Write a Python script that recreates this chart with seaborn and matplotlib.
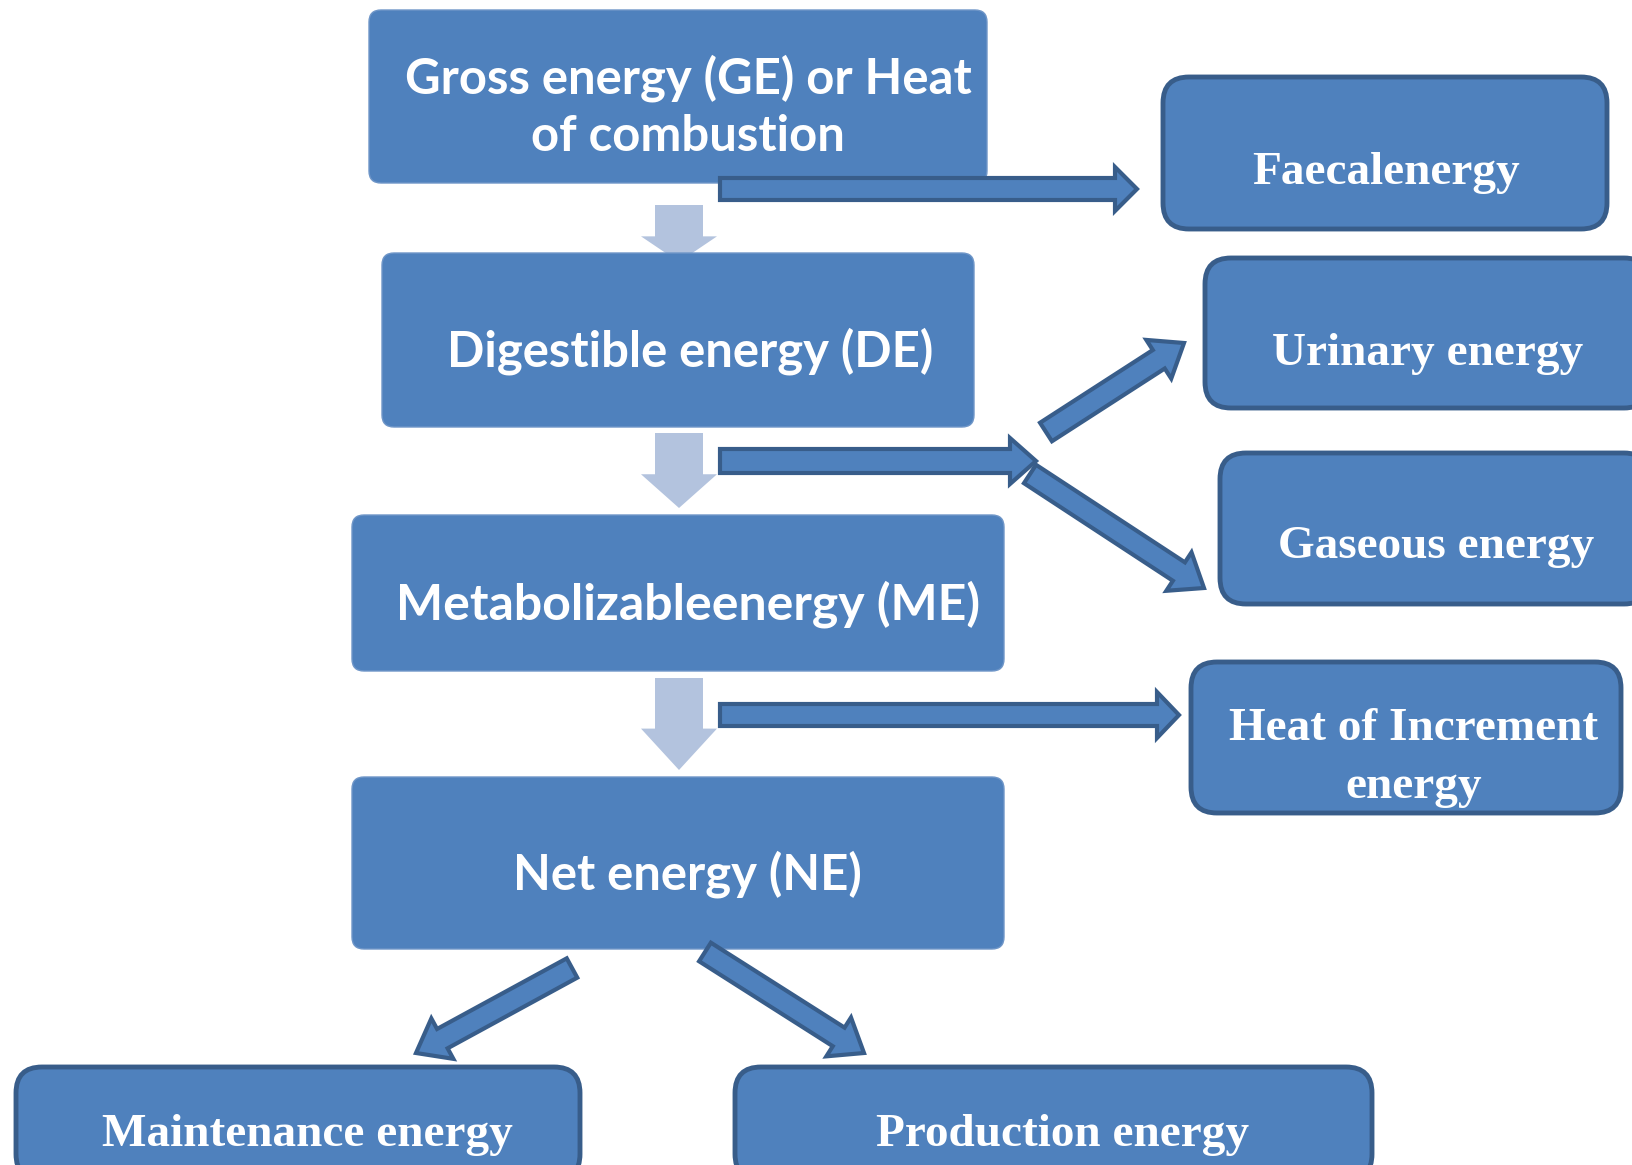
import numpy as np
import pandas as pd
import seaborn as sns
import matplotlib.pyplot as plt
from matplotlib.patches import FancyBboxPatch, FancyArrow

# textos del diagrama
main_labels = ["Gross energy (GE) or Heat\nof combustion", "Digestible energy (DE)",
               "Metabolizableenergy (ME)", "Net energy (NE)"]
loss_labels = ["Faecalenergy", "Urinary energy", "Gaseous energy",
               "Heat of Increment\nenergy"]
use_labels = ["Maintenance energy", "Production energy"]

BLUE = "#4f81bd"
EDGE = "#385d8a"
LIGHT = "#b3c3de"

sns.set_theme(style="white")
plt.rcParams["font.family"] = ["Lato", "DejaVu Sans"]

fig = plt.figure(figsize=(16.32, 11.65), dpi=100)
ax = fig.add_axes([0, 0, 1, 1])
ax.set_xlim(0, 1632)
ax.set_ylim(1165, 0)
ax.axis("off")

# cajas principales (x0, y0, x1, y1) en pixeles
main_boxes = [(369, 10, 987, 183), (382, 253, 974, 427),
              (352, 515, 1004, 671), (352, 777, 1004, 949)]
main_text = [(688, 107), (690, 351), (688, 604), (687, 874)]
main_size = [35.3, 35.3, 36, 35.3]

loss_boxes = [(1163, 77, 1607, 229), (1205, 258, 1650, 408),
              (1220, 453, 1650, 604), (1191, 662, 1621, 813)]
loss_text = [(1386, 173), (1428, 354), (1436, 547), (1414, 758)]

use_boxes = [(16, 1067, 580, 1180), (735, 1067, 1372, 1180)]
use_text = [(307, 1135), (1063, 1135)]


def caja(b, fc, ec, lw, r, z=3):
    x0, y0, x1, y1 = b
    p = FancyBboxPatch((x0, y0), x1 - x0, y1 - y0,
                       boxstyle=f"round,pad=0,rounding_size={r}",
                       fc=fc, ec=ec, lw=lw, zorder=z)
    ax.add_patch(p)


def flecha(x0, y0, x1, y1, w=22, hw=46, hl=28, fc=BLUE, ec=EDGE, lw=3, z=4):
    a = FancyArrow(x0, y0, x1 - x0, y1 - y0, width=w, head_width=hw,
                   head_length=hl, length_includes_head=True,
                   fc=fc, ec=ec, lw=lw, zorder=z, joinstyle="miter")
    ax.add_patch(a)


# flechas claras hacia abajo
for y0, y1 in [(205, 262), (433, 508), (678, 770)]:
    flecha(679, y0, 679, y1, w=48, hw=76, hl=(y1 - y0) * 0.45,
           fc=LIGHT, ec="none", lw=0, z=1)

# flechas de perdidas
flecha(720, 189, 1137, 189, w=22, hw=44, hl=22)
flecha(720, 461, 1036, 461, w=24, hw=46, hl=26)
flecha(720, 715, 1179, 715, w=22, hw=46, hl=22)
flecha(1046, 432, 1184, 343, w=22, hw=46, hl=30)
flecha(1030, 474, 1204, 588, w=22, hw=46, hl=30)
flecha(572, 968, 416, 1053, w=22, hw=46, hl=30)
flecha(705, 952, 864, 1053, w=22, hw=46, hl=30)

for b, t, s, fs in zip(main_boxes, main_text, main_labels, main_size):
    caja(b, BLUE, "#6f96c8", 1, 12)
    ax.text(t[0], t[1], s, ha="center", va="center", color="white",
            fontsize=fs, fontweight="bold", linespacing=1.32, zorder=5)

serif = ["Liberation Serif", "DejaVu Serif"]
for b, t, s in zip(loss_boxes, loss_text, loss_labels):
    caja(b, BLUE, EDGE, 3.5, 26)
    ax.text(t[0], t[1], s, ha="center", va="center", color="white",
            fontsize=34, fontweight="bold", family=serif, linespacing=1.47, zorder=5)

for b, t, s in zip(use_boxes, use_text, use_labels):
    caja(b, BLUE, EDGE, 3.5, 26)
    ax.text(t[0], t[1], s, ha="center", va="center", color="white",
            fontsize=34, fontweight="bold", family=serif, zorder=5)

fig.savefig("out.png", dpi=100, facecolor="white")
